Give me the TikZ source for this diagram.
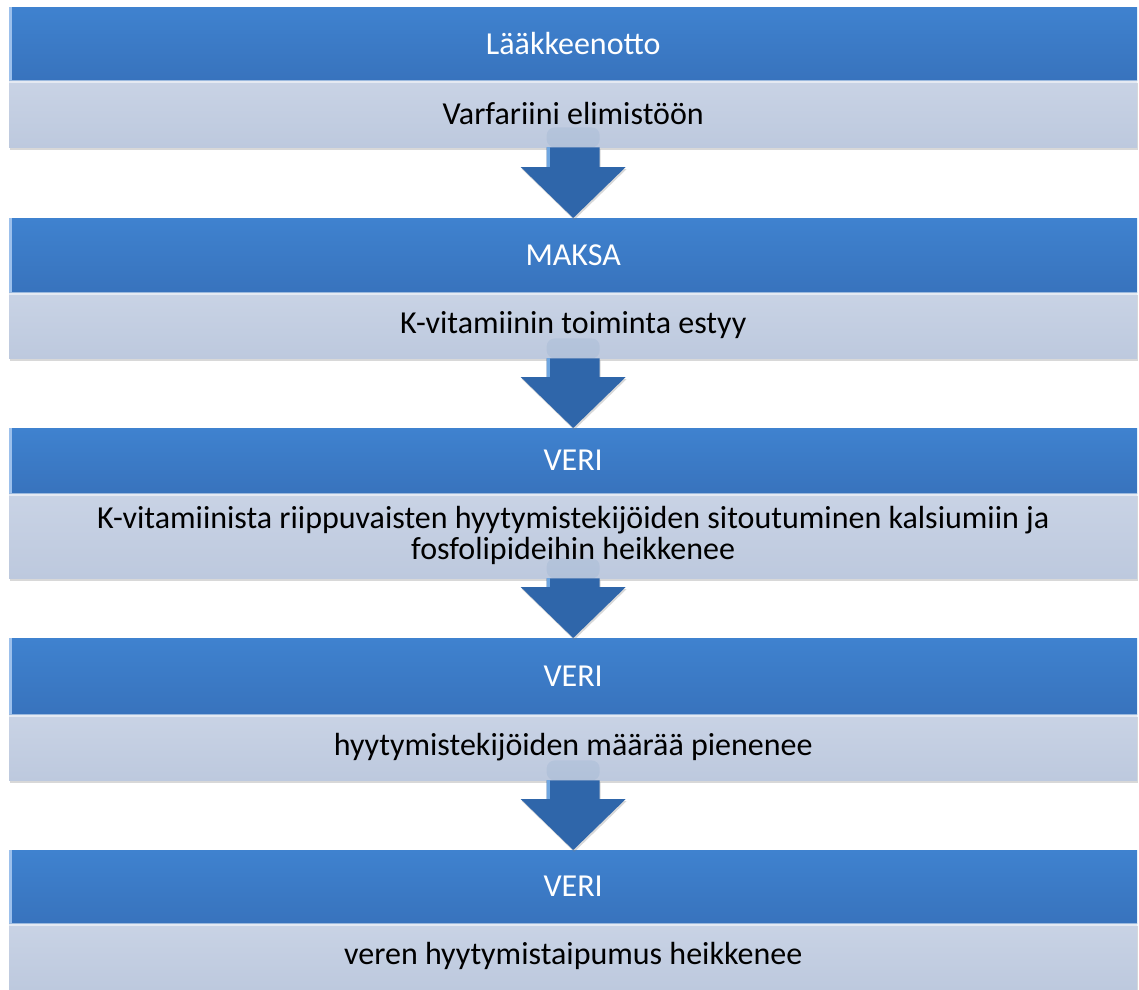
\documentclass[tikz,border=0pt]{standalone}
\usepackage{fontspec}
\setmainfont{Carlito}
\usetikzlibrary{calc,shadows}
\definecolor{bluetop}{HTML}{3F82CF}
\definecolor{bluebot}{HTML}{3873BD}
\definecolor{greytop}{HTML}{C9D3E5}
\definecolor{greybot}{HTML}{BDC9DE}
\definecolor{arrowblue}{HTML}{2F66AA}
\definecolor{arrowlight}{HTML}{6FA6E0}
\definecolor{bevel}{HTML}{9CC0EC}
\newcommand\flowarr[2]{%
  \fill[arrowblue, opacity=.08, rounded corners=8pt]
    ($(#1.south)+(-26.5,0)$) rectangle ($(#1.south)+(26.5,-20)$);
  \fill[arrowblue, drop shadow={opacity=.3,shadow xshift=1pt,shadow yshift=-2pt}]
    ($(#1.south)+(-26.5,0)$) -- ($(#2.north)+(-26.5,-51)$) -- ($(#2.north)+(-52.5,-51)$)
    -- (#2.north) -- ($(#2.north)+(52.5,-51)$) -- ($(#2.north)+(26.5,-51)$)
    -- ($(#1.south)+(26.5,0)$) -- cycle;
  \fill[arrowlight] ($(#1.south)+(-26.5,0)$) rectangle ($(#2.north)+(-23.5,-51)$);
}
\begin{document}
\begin{tikzpicture}[x=1pt,y=-1pt,
  headbox/.style={anchor=north west, minimum width=1128pt, inner sep=0pt,
    top color=bluetop, bottom color=bluebot, text=white,
    font=\fontsize{32}{32}\selectfont},
  bodybox/.style={anchor=north west, minimum width=1128pt, inner sep=0pt,
    top color=greytop, bottom color=greybot, text=black, align=center,
    font=\fontsize{32}{31}\selectfont,
    drop shadow={opacity=.3,shadow xshift=1pt,shadow yshift=-3pt}},
]
\useasboundingbox[fill=white] (0,0) rectangle (1139,989);

\node[bodybox, minimum height=67pt] (l1) at (9,80) {Varfariini elimistöön};
\node[headbox, minimum height=73pt] (h1) at (9,7) {Lääkkeenotto};

\node[bodybox, minimum height=66pt] (l2) at (9,292) {K-vitamiinin toiminta estyy};
\node[headbox, minimum height=74pt] (h2) at (9,218) {MAKSA};

\node[bodybox, minimum height=85pt] (l3) at (9,493) {K-vitamiinista riippuvaisten hyytymistekijöiden sitoutuminen kalsiumiin ja\\fosfolipideihin heikkenee};
\node[headbox, minimum height=65pt] (h3) at (9,428) {VERI};

\node[bodybox, minimum height=66pt] (l4) at (9,714) {hyytymistekijöiden määrää pienenee};
\node[headbox, minimum height=76pt] (h4) at (9,638) {VERI};

\node[bodybox, minimum height=66pt] (l5) at (9,923) {veren hyytymistaipumus heikkenee};
\node[headbox, minimum height=73pt] (h5) at (9,850) {VERI};

\foreach \n in {1,...,5}{
  \fill[bevel] (h\n.north west) rectangle ($(h\n.south west)+(3,0)$);
  \fill[white, opacity=.5] (l\n.north west) rectangle ($(l\n.north east)+(0,3)$);
}

\flowarr{l1}{h2}
\flowarr{l2}{h3}
\flowarr{l3}{h4}
\flowarr{l4}{h5}
\end{tikzpicture}
\end{document}
